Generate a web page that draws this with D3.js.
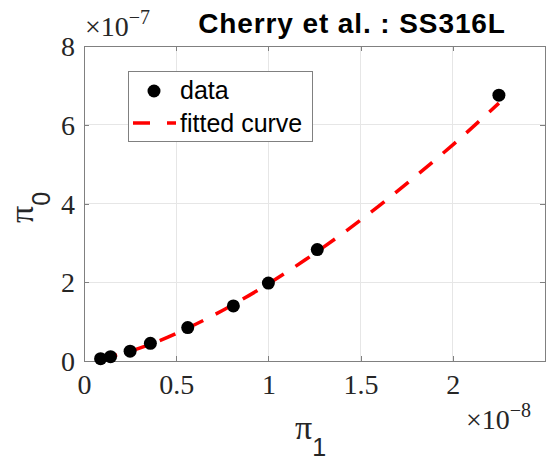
<!DOCTYPE html>
<html>
<head>
<meta charset="utf-8">
<script src="https://cdn.jsdelivr.net/npm/d3@7"></script>
<style>
  html, body { margin: 0; padding: 0; background: #fff; }
  svg { display: block; }
</style>
</head>
<body>
<svg id="chart" width="554" height="461"></svg>
<script>
// ---- data (pi1 in units of 1e-8, pi0 in units of 1e-7) ----
const pi1Data = [0.09, 0.144, 0.25, 0.36, 0.5625, 0.81, 1.0, 1.265, 2.25];
const pi0Data = [0.06, 0.11, 0.25, 0.45, 0.85, 1.40, 1.98, 2.83, 6.75];
const fitX = [0.09, 0.2, 0.4, 0.6, 0.8, 1.0, 1.2, 1.4, 1.6, 1.8, 2.0, 2.25];
const fitY = [0.055, 0.18, 0.50, 0.92, 1.41, 1.96, 2.57, 3.23, 3.94, 4.70, 5.49, 6.55];
const xTicks = [0, 0.5, 1, 1.5, 2, 2.5];
const xTickLabels = ["0", "0.5", "1", "1.5", "2", ""];
const yTicks = [0, 2, 4, 6, 8];
const yTickLabels = ["0", "2", "4", "6", "8"];
const titleText = "Cherry et al. : SS316L";
const legendLabels = ["data", "fitted curve"];

const svg = d3.select("#chart");
const L = 84, R = 545, T = 46, B = 361;
const x = d3.scaleLinear().domain([0, 2.5]).range([L, R]);
const y = d3.scaleLinear().domain([0, 8]).range([B, T]);

const axisColor = "#808080";
const gridColor = "#e6e6e6";
const serif = "'Liberation Serif', 'DejaVu Serif', serif";
const sans = "'Liberation Sans', Arial, Helvetica, sans-serif";

// grid
const g = svg.append("g");
g.selectAll(".gx").data(xTicks.slice(1, -1)).enter().append("line")
  .attr("x1", d => x(d)).attr("x2", d => x(d)).attr("y1", T).attr("y2", B)
  .attr("stroke", gridColor).attr("stroke-width", 1).attr("shape-rendering", "crispEdges");
g.selectAll(".gy").data(yTicks.slice(1, -1)).enter().append("line")
  .attr("y1", d => y(d)).attr("y2", d => y(d)).attr("x1", L).attr("x2", R)
  .attr("stroke", gridColor).attr("stroke-width", 1).attr("shape-rendering", "crispEdges");

// axes with inward ticks using d3 axes
function styleAxis(sel) {
  sel.select(".domain").attr("stroke", axisColor).attr("stroke-width", 1);
  sel.selectAll(".tick line").attr("stroke", axisColor).attr("stroke-width", 1);
  sel.attr("shape-rendering", "crispEdges");
}
const xAxisB = d3.axisBottom(x).tickValues(xTicks).tickSize(-5).tickSizeOuter(0)
  .tickFormat((d, i) => xTickLabels[i]).tickPadding(13);
const gxB = svg.append("g").attr("transform", `translate(0,${B})`).call(xAxisB);
styleAxis(gxB);
gxB.selectAll(".tick text").attr("font-family", serif).attr("font-size", 28)
  .attr("fill", "#262626").attr("dy", "0.71em");

const xAxisT = d3.axisTop(x).tickValues(xTicks).tickSize(-5).tickSizeOuter(0).tickFormat("");
const gxT = svg.append("g").attr("transform", `translate(0,${T})`).call(xAxisT);
styleAxis(gxT);

const yAxisL = d3.axisLeft(y).tickValues(yTicks).tickSize(-5).tickSizeOuter(0)
  .tickFormat((d, i) => yTickLabels[i]).tickPadding(9);
const gyL = svg.append("g").attr("transform", `translate(${L},0)`).call(yAxisL);
styleAxis(gyL);
gyL.selectAll(".tick text").attr("font-family", serif).attr("font-size", 28)
  .attr("fill", "#262626").attr("dy", "0.34em");

const yAxisR = d3.axisRight(y).tickValues(yTicks).tickSize(-5).tickSizeOuter(0).tickFormat("");
const gyR = svg.append("g").attr("transform", `translate(${R},0)`).call(yAxisR);
styleAxis(gyR);

// exponent labels
function expLabel(xp, yp, exp) {
  const t = svg.append("text").attr("x", xp).attr("y", yp)
    .attr("font-family", serif).attr("font-size", 28).attr("fill", "#262626");
  t.append("tspan").text("\u00d710");
  t.append("tspan").attr("dy", -12).attr("font-size", 20).text("\u2212" + exp);
  return t;
}
expLabel(85, 36, "7");
expLabel(466, 429, "8");

// fitted curve
const line = d3.line().x(d => x(d[0])).y(d => y(d[1])).curve(d3.curveMonotoneX);
svg.append("path").datum(fitX.map((v, i) => [v, fitY[i]]))
  .attr("d", line).attr("fill", "none").attr("stroke", "#ff0000")
  .attr("stroke-width", 3.5).attr("stroke-dasharray", "17,14");

// data points
svg.selectAll(".pt").data(pi1Data.map((v, i) => [v, pi0Data[i]])).enter().append("circle")
  .attr("cx", d => x(d[0])).attr("cy", d => y(d[1])).attr("r", 6.5).attr("fill", "#000");

// title
svg.append("text").attr("x", 352).attr("y", 33).attr("text-anchor", "middle")
  .attr("font-family", sans).attr("font-weight", "bold").attr("font-size", 28)
  .attr("letter-spacing", 0.9)
  .attr("fill", "#000").text(titleText);

// x label
const xl = svg.append("text").attr("x", 295).attr("y", 439).attr("fill", "#262626");
xl.append("tspan").attr("font-family", serif).attr("font-size", 34).text("\u03c0");
xl.append("tspan").attr("font-family", sans).attr("font-size", 25).attr("dy", 17).text("1");

// y label
const yl = svg.append("text").attr("transform", "translate(33,223) rotate(-90)").attr("fill", "#262626");
yl.append("tspan").attr("font-family", serif).attr("font-size", 34).text("\u03c0");
yl.append("tspan").attr("font-family", sans).attr("font-size", 25).attr("dy", 17).text("0");

// legend
const lg = svg.append("g");
lg.append("rect").attr("x", 128.5).attr("y", 71.5).attr("width", 184).attr("height", 70)
  .attr("fill", "#fff").attr("stroke", axisColor).attr("stroke-width", 1);
lg.append("circle").attr("cx", 154).attr("cy", 91).attr("r", 6.5).attr("fill", "#000");
lg.append("line").attr("x1", 133).attr("x2", 176).attr("y1", 123).attr("y2", 123)
  .attr("stroke", "#ff0000").attr("stroke-width", 3.5).attr("stroke-dasharray", "17,17");
lg.selectAll(".lt").data(legendLabels).enter().append("text")
  .attr("x", 180).attr("y", (d, i) => i === 0 ? 99 : 132)
  .attr("font-family", sans).attr("font-size", 25).attr("fill", "#000").text(d => d);
</script>
</body>
</html>
